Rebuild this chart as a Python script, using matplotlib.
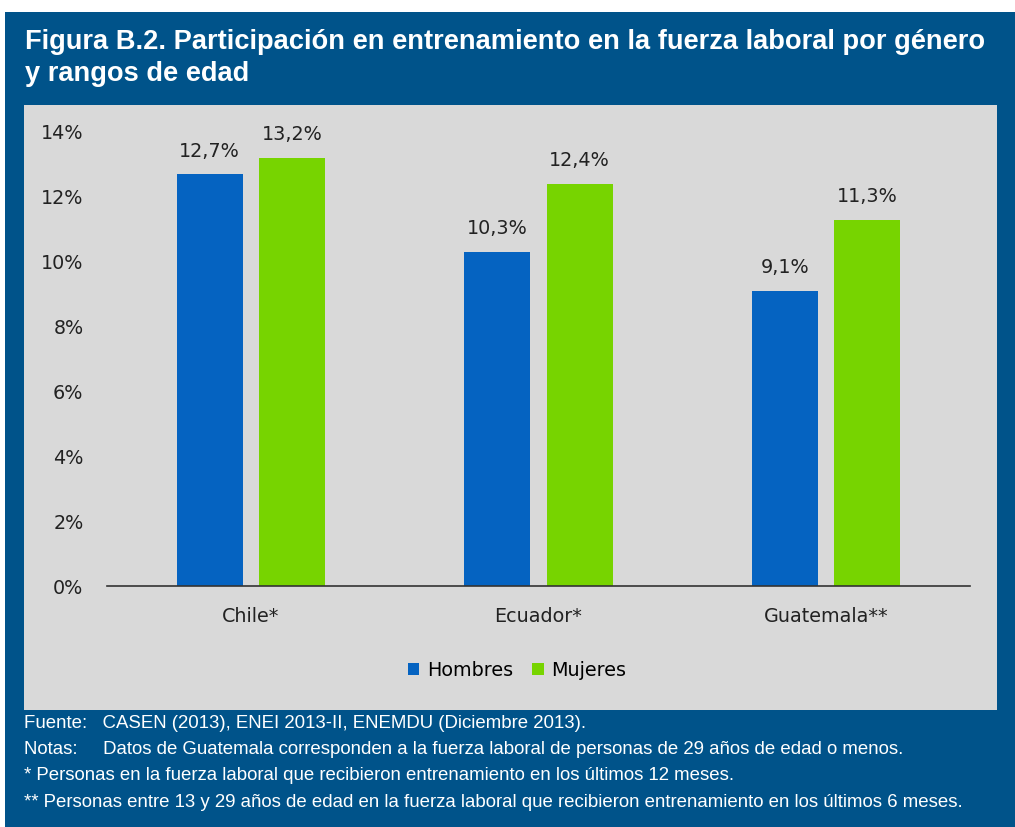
import matplotlib
matplotlib.use("Agg")
import matplotlib.pyplot as plt
from matplotlib.patches import Rectangle
import numpy as np

categories = ["Chile*", "Ecuador*", "Guatemala**"]
hombres = [12.7, 10.3, 9.1]
mujeres = [13.2, 12.4, 11.3]
yticks = [0, 2, 4, 6, 8, 10, 12, 14]
series_names = ["Hombres", "Mujeres"]

W, H = 1015, 827
fig = plt.figure(figsize=(W / 100, H / 100), dpi=100, facecolor="white")

def fx(px):
    return px / W

def fy(py):
    return 1 - py / H

# blue frame
fig.patches.append(Rectangle((fx(5), 0), fx(1015 - 5), fy(12), transform=fig.transFigure,
                             facecolor="#00538A", edgecolor="none", zorder=-2))
# gray panel
fig.patches.append(Rectangle((fx(24), fy(710)), fx(997 - 24), (710 - 105) / H, transform=fig.transFigure,
                             facecolor="#D9D9D9", edgecolor="none", zorder=-1))

fig.text(fx(25), fy(42), "Figura B.2. Participación en entrenamiento en la fuerza laboral por género",
         color="white", fontsize=19.6, fontweight="bold", family="Liberation Sans", va="center", ha="left")
fig.text(fx(25), fy(74), "y rangos de edad",
         color="white", fontsize=19.6, fontweight="bold", family="Liberation Sans", va="center", ha="left")

FS = 13.8
ax = fig.add_axes([fx(107), fy(586), fx(970 - 107), (586 - 132) / H])
ax.set_zorder(2)
ax.set_facecolor("none")
x = np.arange(len(categories))
w = 0.23
off = 0.143
b1 = ax.bar(x - off, hombres, w, color="#0563C1", label=series_names[0])
b2 = ax.bar(x + off, mujeres, w, color="#77D400", label=series_names[1])
for bars, vals in ((b1, hombres), (b2, mujeres)):
    for b, v in zip(bars, vals):
        ax.text(b.get_x() + b.get_width() / 2, v + 0.42, f"{v:.1f}%".replace(".", ","),
                ha="center", va="bottom", fontsize=FS, color="#222222")

ax.set_xlim(-0.5, 2.5)
ax.set_ylim(0, 14)
ax.set_yticks(yticks)
ax.set_yticklabels([f"{t}%" for t in yticks], fontsize=FS, color="#222222")
ax.set_xticks(x)
ax.set_xticklabels(categories, fontsize=FS, color="#222222")
ax.tick_params(axis="y", length=0, pad=17)
ax.tick_params(axis="x", length=0, pad=15)
for s in ["top", "right", "left"]:
    ax.spines[s].set_visible(False)
ax.spines["bottom"].set_color("#333333")
ax.spines["bottom"].set_linewidth(1.2)

leg = fig.legend(handles=[b1, b2], labels=series_names, loc="center", bbox_to_anchor=(fx(517), fy(670)),
                 ncol=2, frameon=False, fontsize=FS, handlelength=0.6, handleheight=0.6,
                 handletextpad=0.4, columnspacing=1.0)
leg.set_zorder(3)

notes = [
    "Fuente:   CASEN (2013), ENEI 2013-II, ENEMDU (Diciembre 2013).",
    "Notas:     Datos de Guatemala corresponden a la fuerza laboral de personas de 29 años de edad o menos.",
    "* Personas en la fuerza laboral que recibieron entrenamiento en los últimos 12 meses.",
    "** Personas entre 13 y 29 años de edad en la fuerza laboral que recibieron entrenamiento en los últimos 6 meses.",
]
for i, n in enumerate(notes):
    fig.text(fx(24), fy(723 + i * 26.5), n, color="white", fontsize=13.4,
             family="Liberation Sans", va="center", ha="left")

fig.savefig("out.png", dpi=100, facecolor="white")
